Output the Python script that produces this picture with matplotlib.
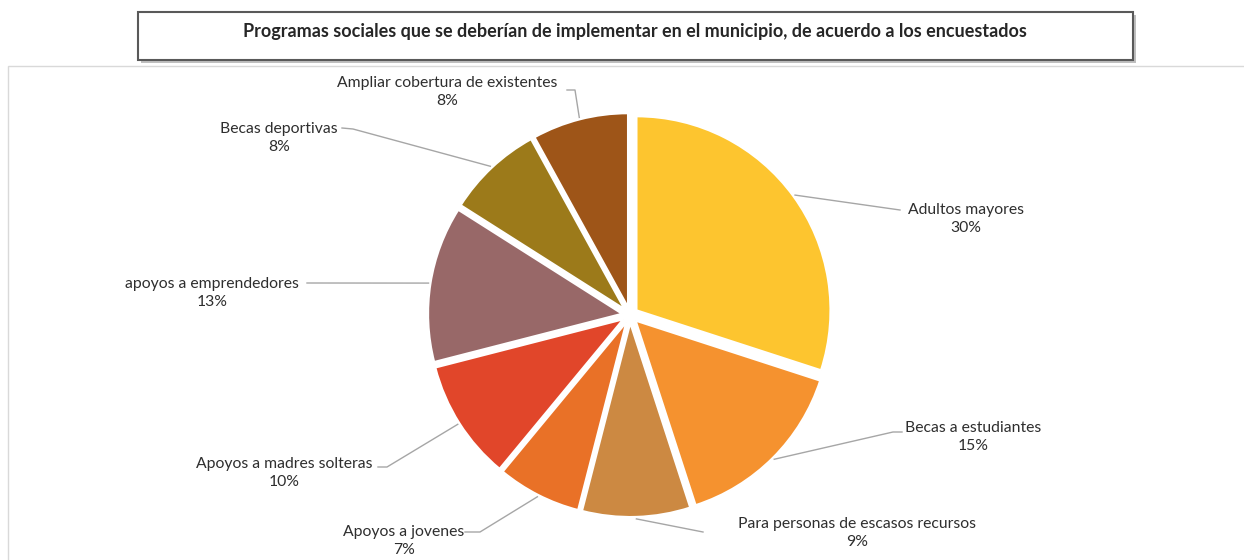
import numpy as np
import matplotlib.pyplot as plt
from matplotlib.patches import Rectangle

# datos
categorias = ['Adultos mayores', 'Becas a estudiantes', 'Para personas de escasos recursos',
              'Apoyos a jovenes', 'Apoyos a madres solteras', 'apoyos a emprendedores',
              'Becas deportivas', 'Ampliar cobertura de existentes']
valores = [30, 15, 9, 7, 10, 13, 8, 8]
colores = ['#FDC52F', '#F5922F', '#CC8942', '#E97127', '#E1462A',
           '#986868', '#9C7A1A', '#9E5518']
titulo = 'Programas sociales que se deberían de implementar en el municipio, de acuerdo a los encuestados'

# posiciones de etiquetas (pixeles, y hacia abajo)
pos_texto = [(966, 219), (973, 437), (857, 533), (404, 541),
             (284, 473), (212, 293), (279, 138), (447, 92)]
guias = [[(900, 210)],
         [(893, 432), (902, 432)],
         [(703, 532)],
         [(480, 532), (465, 532)],
         [(387, 467), (378, 467)],
         [(307, 283)],
         [(353, 129), (342, 128)],
         [(575, 90), (567, 90)]]

W, H = 1244, 560
fig = plt.figure(figsize=(W / 100, H / 100), dpi=100)
ax = fig.add_axes([0, 0, 1, 1])
plt.rcParams['font.family'] = ['Lato', 'DejaVu Sans']

def py(y):
    return H - y

cx, cy, r = 630, py(315), 194
sep = 8
wedges, _ = ax.pie(valores, colors=colores, startangle=90, counterclock=False,
                   explode=[sep] * len(valores), center=(cx, cy), radius=r,
                   wedgeprops=dict(edgecolor='white', linewidth=1.5))

for w, cat, v, (tx, ty), pts in zip(wedges, categorias, valores, pos_texto, guias):
    ang = np.deg2rad((w.theta1 + w.theta2) / 2)
    x0 = cx + (r + 10) * np.cos(ang)
    y0 = cy + (r + 10) * np.sin(ang)
    xs = [x0] + [p[0] for p in pts]
    ys = [y0] + [py(p[1]) for p in pts]
    ax.plot(xs, ys, color='#A6A6A6', lw=1)
    ax.text(tx, py(ty), f'{cat}\n{v}%', ha='center', va='center', fontsize=11.3,
            color='#2E2E2E', linespacing=1.38)

# recuadro del area del grafico
ax.add_patch(Rectangle((8, py(600)), 1300, 534, fill=False, edgecolor='#D9D9D9', lw=1))

# recuadro del titulo con sombra
ax.add_patch(Rectangle((141, py(63)), 995, 48, facecolor='#BFBFBF', edgecolor='none'))
ax.add_patch(Rectangle((138, py(60)), 995, 48, facecolor='white', edgecolor='#595959', lw=1.5))
ax.text(635, py(31), titulo, ha='center', va='center', fontsize=13,
        fontweight='bold', color='#262626')

ax.set_xlim(0, W)
ax.set_ylim(0, H)
ax.set_aspect('auto')
ax.axis('off')
plt.savefig('out.png', dpi=100)
